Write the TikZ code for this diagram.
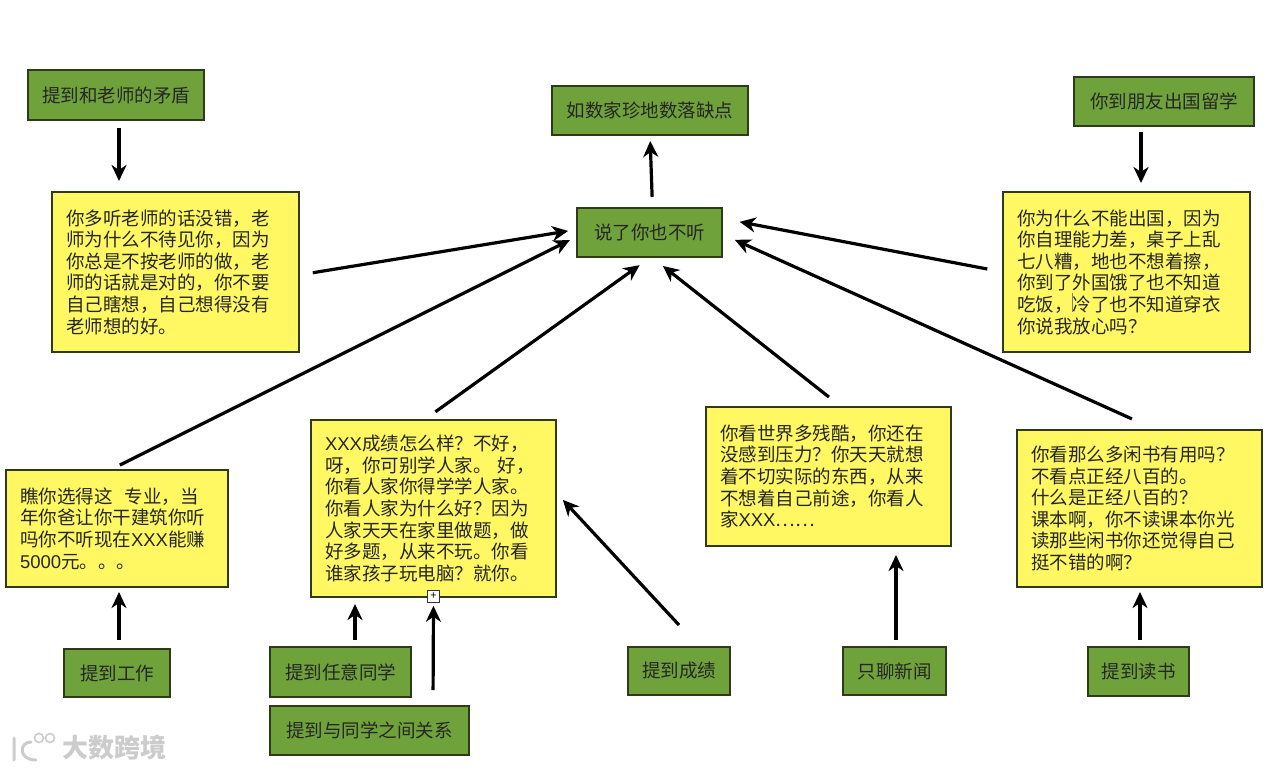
\documentclass[tikz,border=0pt]{standalone}
\usepackage{fontspec}
\setmainfont{Noto Sans CJK SC}
\newfontfamily\latinfont{Liberation Sans}
\usetikzlibrary{arrows.meta}

\definecolor{boxgreen}{HTML}{6FA23A}
\definecolor{boxyellow}{HTML}{FFF862}
\definecolor{boxedge}{HTML}{2E3A1A}

\begin{document}
\begin{tikzpicture}[x=1pt, y=-1pt,
  greenbox/.style={draw=boxedge, line width=1.6pt, fill=boxgreen, anchor=north west,
    inner sep=0pt, outer sep=0pt, text=black!85, font=\fontsize{18.5}{21.6}\selectfont},
  yellowbox/.style={draw=boxedge, line width=1.6pt, fill=boxyellow, anchor=north west,
    inner xsep=14pt, inner ysep=0pt, outer sep=0pt, text width=#1, align=left, text=black!85,
    font=\fontsize{18.5}{21.6}\selectfont},
  conn/.style={line width=3.2pt, black, -{Stealth[length=16pt, width=15pt, inset=5pt]}}]

  \useasboundingbox (0,0) rectangle (1280,770);

  % Centre and the box above it
  \node[greenbox, minimum width=145pt, minimum height=49pt] (center) at (577,208) {说了你也不听};
  \node[greenbox, minimum width=196pt, minimum height=49pt] (shortfall) at (552,86) {如数家珍地数落缺点};

  % Top left
  \node[greenbox, minimum width=176pt, minimum height=50pt] (teacher) at (28,70) {提到和老师的矛盾};
  \node[yellowbox=219pt, minimum height=160pt] (teacherText) at (52,192) {你多听老师的话没错，老\\师为什么不待见你，因为\\你总是不按老师的做，老\\师的话就是对的，你不要\\自己瞎想，自己想得没有\\老师想的好。};

  % Top right
  \node[greenbox, minimum width=180pt, minimum height=49pt] (abroad) at (1074,77) {你到朋友出国留学};
  \node[yellowbox=219pt, minimum height=160pt] (abroadText) at (1003,192) {你为什么不能出国，因为\\你自理能力差，桌子上乱\\七八糟，地也不想着擦，\\你到了外国饿了也不知道\\吃饭，冷了也不知道穿衣\\你说我放心吗？};
  \draw[gray, line width=0.6pt] (1072,293) -- (1072,312);

  % Bottom row, text boxes
  \node[yellowbox=194pt, minimum height=117pt] (workText) at (6,470) {瞧你选得这\ \ 专业，当\\年你爸让你干建筑你听\\吗你不听现在{\latinfont XXX}能赚\\{\latinfont 5000}元。。。};
  \node[yellowbox=217pt, minimum height=177pt] (gradeText) at (311,420) {{\latinfont XXX}成绩怎么样？不好，\\呀，你可别学人家。 好，\\你看人家你得学学人家。\\你看人家为什么好？因为\\人家天天在家里做题，做\\好多题，从来不玩。你看\\谁家孩子玩电脑？就你。};
  \node[yellowbox=217pt, minimum height=139pt] (newsText) at (706,407) {你看世界多残酷，你还在\\没感到压力？你天天就想\\着不切实际的东西，从来\\不想着自己前途，你看人\\家{\latinfont XXX}……};
  \node[yellowbox=217pt, minimum height=157pt] (readText) at (1017,430) {你看那么多闲书有用吗？\\不看点正经八百的。\\什么是正经八百的？\\课本啊，你不读课本你光\\读那些闲书你还觉得自己\\挺不错的啊？};

  % Bottom row, topics
  \node[greenbox, minimum width=106pt, minimum height=48pt] (work) at (64,649) {提到工作};
  \node[greenbox, minimum width=141pt, minimum height=50pt] (classmate) at (270,647) {提到任意同学};
  \node[greenbox, minimum width=199pt, minimum height=49pt] (relation) at (270,706) {提到与同学之间关系};
  \node[greenbox, minimum width=102pt, minimum height=48pt] (grade) at (628,647) {提到成绩};
  \node[greenbox, minimum width=103pt, minimum height=48pt] (news) at (843,647) {只聊新闻};
  \node[greenbox, minimum width=101pt, minimum height=49pt] (read) at (1088,647) {提到读书};

  % Fold marker on the middle box
  \node[draw=black!80, line width=0.6pt, fill=white, inner sep=0pt, minimum size=12pt,
    font=\fontsize{11}{11}\selectfont] (fold) at (433.5,596.5) {+};

  % Arrows at the top
  \draw[conn, shorten <=8pt, shorten >=11pt] ([xshift=3pt]teacher.south) -- ([xshift=-56.5pt]teacherText.north);
  \draw[conn, shorten <=6pt, shorten >=9pt] ([xshift=-23pt]abroad.south) -- ([xshift=14.5pt]abroadText.north);
  \draw[conn, shorten <=11pt, shorten >=6pt] ([xshift=3pt]center.north) -- (shortfall.south);

  % Arrows into the centre
  \draw[conn, shorten <=14pt, shorten >=9pt] ([yshift=-3pt]teacherText.east) -- ([yshift=3pt]center.west);
  \draw[conn, shorten <=16pt, shorten >=18pt] (abroadText.west) -- ([yshift=14pt]center.east);
  \draw[conn, shorten <=11pt, shorten >=8pt] ([xshift=-7pt]workText.north) -- ([yshift=-4pt]center.west);
  \draw[conn, shorten <=14pt, shorten >=14pt] ([xshift=-9.5pt]gradeText.north) -- ([xshift=1.5pt]center.south);
  \draw[conn, shorten <=16pt, shorten >=14.5pt] ([xshift=13pt]newsText.north) -- ([xshift=2pt]center.south);
  \draw[conn, shorten <=27pt, shorten >=14pt] ([xshift=17pt]readText.north) -- ([yshift=-1.6pt]center.east);

  % Arrows from the topics
  \draw[conn, shorten <=9pt, shorten >=5pt] ([xshift=2pt]work.north) -- ([xshift=2pt]workText.south);
  \draw[conn, shorten <=7pt, shorten >=7pt] ([xshift=14.5pt]classmate.north) -- ([xshift=-78.5pt]gradeText.south);
  \draw[conn, shorten <=16pt, shorten >=3pt] ([xshift=63.5pt]relation.north) -- (fold.south);
  \draw[conn, shorten <=30pt, shorten >=10pt] ([xshift=20.4pt]grade.north) -- ([yshift=16pt]gradeText.east);
  \draw[conn, shorten <=7pt, shorten >=9pt] ([xshift=1.5pt]news.north) -- ([xshift=67.5pt]newsText.south);
  \draw[conn, shorten <=7pt, shorten >=5pt] ([xshift=1.5pt]read.north) -- ([xshift=0.5pt]readText.south);

  % Watermark
  \draw[white!80!black, line width=3pt, line cap=round]
    (14,738) -- (14,760)
    (31,742) .. controls (19,742) and (18,760) .. (36,760);
  \draw[white!80!black, line width=1.6pt] (39,738) circle (4.5) (50,738) circle (4.5);
  \node[inner sep=0pt, anchor=west, text=white!80!black, font=\fontsize{26}{26}\selectfont\bfseries] (mark) at (62,748) {大数跨境};

\end{tikzpicture}
\end{document}
